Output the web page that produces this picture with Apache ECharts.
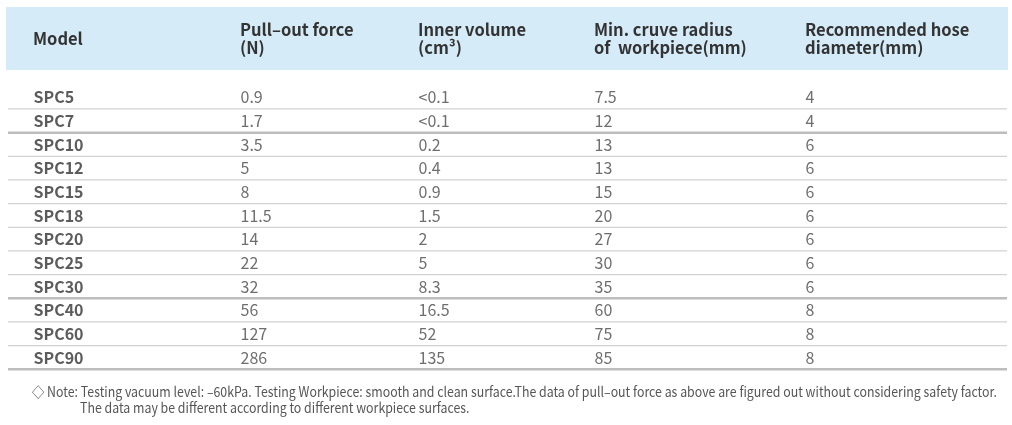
<!DOCTYPE html>
<html><head><meta charset="utf-8">
<script src="https://cdn.jsdelivr.net/npm/echarts@6/dist/echarts.min.js"></script>
<style>html,body{margin:0;padding:0;background:#fff}#c{width:1012px;height:425px}</style>
</head><body><div id="c"></div>
<script>
// ---- data ----
const headers = [
  ["Model"],
  ["Pull–out force", "(N)"],
  ["Inner volume", "(cm³)"],
  ["Min. cruve radius", "of  workpiece(mm)"],
  ["Recommended hose", "diameter(mm)"]
];
const models = ["SPC5","SPC7","SPC10","SPC12","SPC15","SPC18","SPC20","SPC25","SPC30","SPC40","SPC60","SPC90"];
const pullOut = ["0.9","1.7","3.5","5","8","11.5","14","22","32","56","127","286"];
const innerVolume = ["<0.1","<0.1","0.2","0.4","0.9","1.5","2","5","8.3","16.5","52","135"];
const minRadius = ["7.5","12","13","13","15","20","27","30","35","60","75","85"];
const hoseDiameter = ["4","4","6","6","6","6","6","6","6","8","8","8"];
const noteLines = [
  "◇ Note: Testing vacuum level: –60kPa. Testing Workpiece: smooth and clean surface.The data of pull–out force as above are figured out without considering safety factor.",
  "The data may be different according to different workpiece surfaces."
];

// ---- layout ----
const COL_X = [33, 240, 418, 594, 805];
const FONT = '"Noto Sans CJK SC", "Noto Sans", sans-serif';
const columns = [models, pullOut, innerVolume, minRadius, hoseDiameter];

const chart = echarts.init(document.getElementById('c'), null, {renderer: 'canvas'});

// measure note to fit condensed width
const cv = document.createElement('canvas').getContext('2d');
const NOTE_SIZE = 14;
cv.font = NOTE_SIZE + 'px ' + FONT;
const noteW = cv.measureText(noteLines[0]).width;
const noteScale = 965 / noteW;

const series = columns.map((col, c) => ({
  type: 'scatter',
  silent: true,
  symbolSize: 1,
  itemStyle: {color: 'rgba(0,0,0,0)'},
  data: col.map((v, i) => [COL_X[c], i]),
  label: {
    show: true,
    position: 'right',
    distance: 0,
    formatter: p => col[p.dataIndex],
    fontFamily: FONT,
    fontSize: 16,
    fontWeight: c === 0 ? 'bold' : 'normal',
    color: c === 0 ? '#333' : '#4a4a4a'
  }
}));

series.push({
  type: 'custom',
  silent: true,
  data: models.map((m, i) => [8, i, (i === models.length - 1 || hoseDiameter[i] !== hoseDiameter[i + 1]) ? 1 : 0]),
  renderItem: (params, api) => {
    const i = api.value(1);
    const thick = api.value(2);
    const p1 = api.coord([8, i]);
    const p2 = api.coord([1007, i]);
    const h = api.size([0, 1])[1];
    const y = p1[1] + h / 2;
    return {
      type: 'line',
      shape: {x1: p1[0], y1: y, x2: p2[0], y2: y},
      style: {stroke: thick ? '#bdbdbd' : '#d2d2d2', lineWidth: thick ? 2.5 : 1.2}
    };
  },
  z: 1
});

const graphics = [
  {type: 'rect', shape: {x: 6, y: 7, width: 1002, height: 63}, style: {fill: '#d5ebf8'}, z: 0, silent: true}
];
headers.forEach((h, c) => {
  graphics.push({
    type: 'text', x: COL_X[c], y: 39, silent: true,
    style: {
      text: h.join('\n'), font: 'bold 16.5px ' + FONT, fill: '#333',
      textAlign: 'left', textVerticalAlign: 'middle', verticalAlign: 'middle', lineHeight: 18
    }
  });
});
graphics.push({
  type: 'text', x: 32, y: 392, scaleX: noteScale, silent: true,
  style: {text: noteLines[0], font: NOTE_SIZE + 'px ' + FONT, fill: '#555', verticalAlign: 'middle', textVerticalAlign: 'middle'}
});
graphics.push({
  type: 'text', x: 80, y: 408, scaleX: noteScale, silent: true,
  style: {text: noteLines[1], font: NOTE_SIZE + 'px ' + FONT, fill: '#555', verticalAlign: 'middle', textVerticalAlign: 'middle'}
});

chart.setOption({
  animation: false,
  grid: {left: 0, right: 0, top: 85.3, bottom: 55.7},
  xAxis: {type: 'value', min: 0, max: 1012, show: false},
  yAxis: {type: 'category', data: models, inverse: true, show: false},
  graphic: graphics,
  series: series
});
</script>
</body></html>
